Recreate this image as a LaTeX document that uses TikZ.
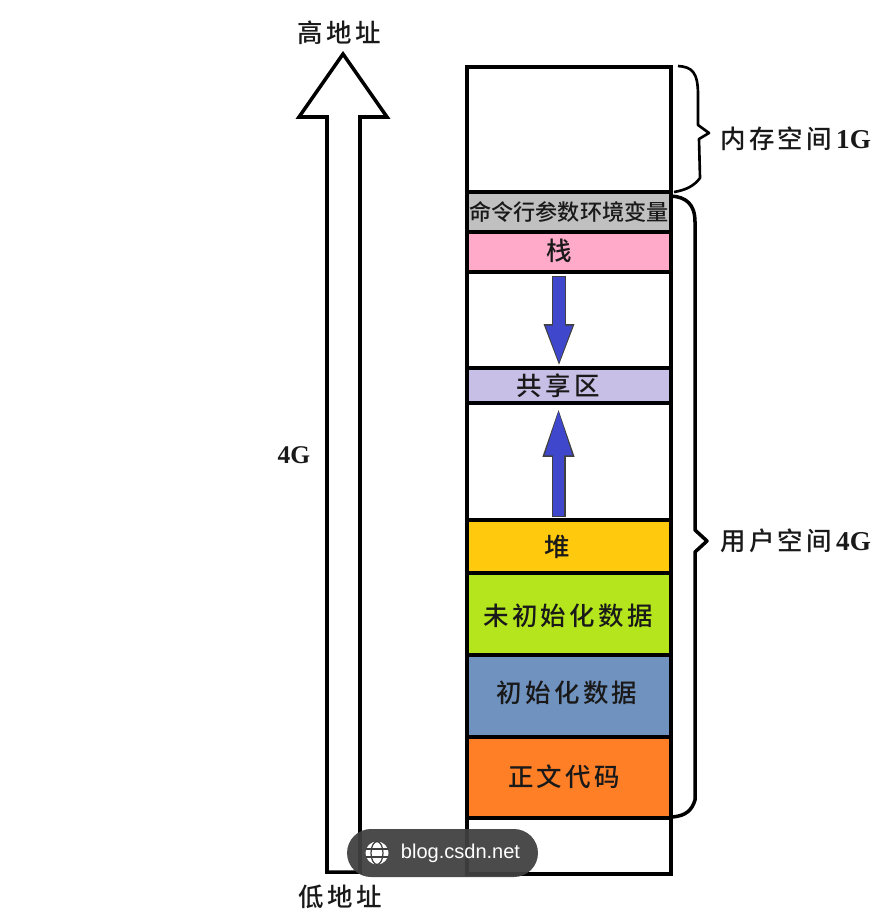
\documentclass[tikz,border=0pt]{standalone}
\usepackage{fontspec}
\usepackage{xcolor}
\usepackage{tikz}
\usetikzlibrary{arrows.meta}
\setmainfont{Liberation Serif}
\newfontfamily\cjk[LetterSpace=13]{Noto Sans CJK SC Medium}
\newfontfamily\cjktight{Noto Sans CJK SC Medium}
\newfontfamily\badge{Liberation Sans}
\definecolor{argsgrey}{RGB}{192,192,192}
\definecolor{stackpink}{RGB}{255,170,201}
\definecolor{sharedlilac}{RGB}{200,191,231}
\definecolor{heapyellow}{RGB}{255,201,14}
\definecolor{bssgreen}{RGB}{181,230,29}
\definecolor{dataslate}{RGB}{112,146,190}
\definecolor{textorange}{RGB}{255,127,39}
\definecolor{growblue}{RGB}{63,72,204}
\definecolor{badgegrey}{RGB}{64,64,64}
\tikzset{
  band/.style={draw=black, line width=2pt, minimum width=4.08cm, inner sep=0pt, outer sep=0pt},
  caption/.style={font=\fontsize{14.5}{16}\selectfont, inner sep=0pt, text=black!90},
  bracket/.style={line width=1.5pt, line join=round},
  growedge/.style={draw=black!75, line width=0.28cm, -{Triangle[length=#1,width=0.54cm,color=black!75]}},
  growfill/.style={draw=growblue, line width=0.23cm, -{Triangle[length=#1,width=0.47cm,color=growblue,fill=growblue]}}
}

\begin{document}
\begin{tikzpicture}[x=0.02cm, y=-0.02cm]
  \useasboundingbox (0,0) rectangle (888,922);
  \node[band, minimum height=2.5cm] (kernel) at (569,129.5) {};
  \node[band, fill=argsgrey, minimum height=0.8cm] (args) at (569,212) {};
  \node[band, fill=stackpink, minimum height=0.8cm] (stack) at (569,252) {};
  \node[band, minimum height=1.92cm] (gapa) at (569,320) {};
  \node[band, fill=sharedlilac, minimum height=0.7cm] (shared) at (569,385.5) {};
  \node[band, minimum height=2.34cm] (gapb) at (569,461.5) {};
  \node[band, fill=heapyellow, minimum height=1.06cm] (heap) at (569,546.5) {};
  \node[band, fill=bssgreen, minimum height=1.64cm] (bss) at (569,614) {};
  \node[band, fill=dataslate, minimum height=1.64cm] (data) at (569,696) {};
  \node[band, fill=textorange, minimum height=1.62cm] (code) at (569,777.5) {};
  \node[band, minimum height=1.12cm] (rest) at (569,846) {};

  \node[caption, font=\fontsize{12.6}{14}\selectfont] (argstext) at (569,212) {\cjktight 命令行参数环境变量};
  \node[caption] (stacktext) at (559,251) {\cjk 栈};
  \node[caption] (sharedtext) at (558,386) {\cjk 共享区};
  \node[caption] (heaptext) at (557,547) {\cjk 堆};
  \node[caption] (bsstext) at (568,616) {\cjk 未初始化数据};
  \node[caption] (datatext) at (567,693) {\cjk 初始化数据};
  \node[caption] (codetext) at (564,777) {\cjk 正文代码};

  \draw[growedge=0.88cm] ([xshift=-0.2cm,yshift=-0.08cm]stack.south) -- ([xshift=-0.2cm]shared.north);
  \draw[growfill=0.8cm, shorten >=0.05cm] ([xshift=-0.2cm,yshift=-0.1cm]stack.south) -- ([xshift=-0.2cm]shared.north);
  \draw[growedge=1.08cm] ([xshift=-0.21cm,yshift=0.06cm]heap.north) -- ([xshift=-0.21cm]shared.south);
  \draw[growfill=1cm, shorten >=0.05cm] ([xshift=-0.21cm,yshift=0.08cm]heap.north) -- ([xshift=-0.21cm]shared.south);

  \node[caption] (high) at (339,33) {\cjk 高地址};
  \node[caption] (low) at (340,897) {\cjk 低地址};
  \node[caption, font=\fontsize{14.5}{16}\selectfont\bfseries] (span) at (294,455) {4G};
  \draw[line width=2pt, miter limit=10] (327,872) -- (327,117) -- (299,117) -- (343,54) -- (387,117) -- (360,117) -- (360,872) -- cycle;

  \draw[bracket] (678,66) .. controls (692,67) and (698,72) .. (698,95) -- (698,125) -- (709,133) -- (699,139) -- (700,178) .. controls (694,186) and (686,190) .. (674,192);
  \draw[bracket, line width=2pt] (671,196) .. controls (686,197) and (695,204) .. (695,222) -- (695,530) -- (707,541) -- (695,552) -- (695,800) .. controls (692,810) and (686,816) .. (672,817);
  \node[caption, anchor=west] (kernellabel) at (720,139) {\cjk 内存空间\hspace{0.08cm}{\bfseries\rmfamily\fontsize{15.5}{16}\selectfont 1G}};
  \node[caption, anchor=west] (userlabel) at (720,541) {\cjk 用户空间\hspace{0.08cm}{\bfseries\rmfamily\fontsize{15.5}{16}\selectfont 4G}};

  \node[fill=badgegrey, fill opacity=0.94, rounded corners=0.48cm, minimum width=3.82cm, minimum height=0.96cm, inner sep=0pt] (badgebox) at (442.5,853) {};
  \node[inner sep=0pt, text=white, font=\badge\fontsize{11.4}{13}\selectfont] (badgetext) at (460.5,853) {blog.csdn.net};
  \node[circle, fill=white, minimum size=0.46cm, inner sep=0pt] (globe) at (377,853) {};
  \draw[badgegrey, line width=0.7pt] (globe.center) ellipse (0.12cm and 0.23cm);
  \draw[badgegrey, line width=0.7pt] (366,849) -- (388,849);
  \draw[badgegrey, line width=0.7pt] (366,857) -- (388,857);
\end{tikzpicture}
\end{document}
